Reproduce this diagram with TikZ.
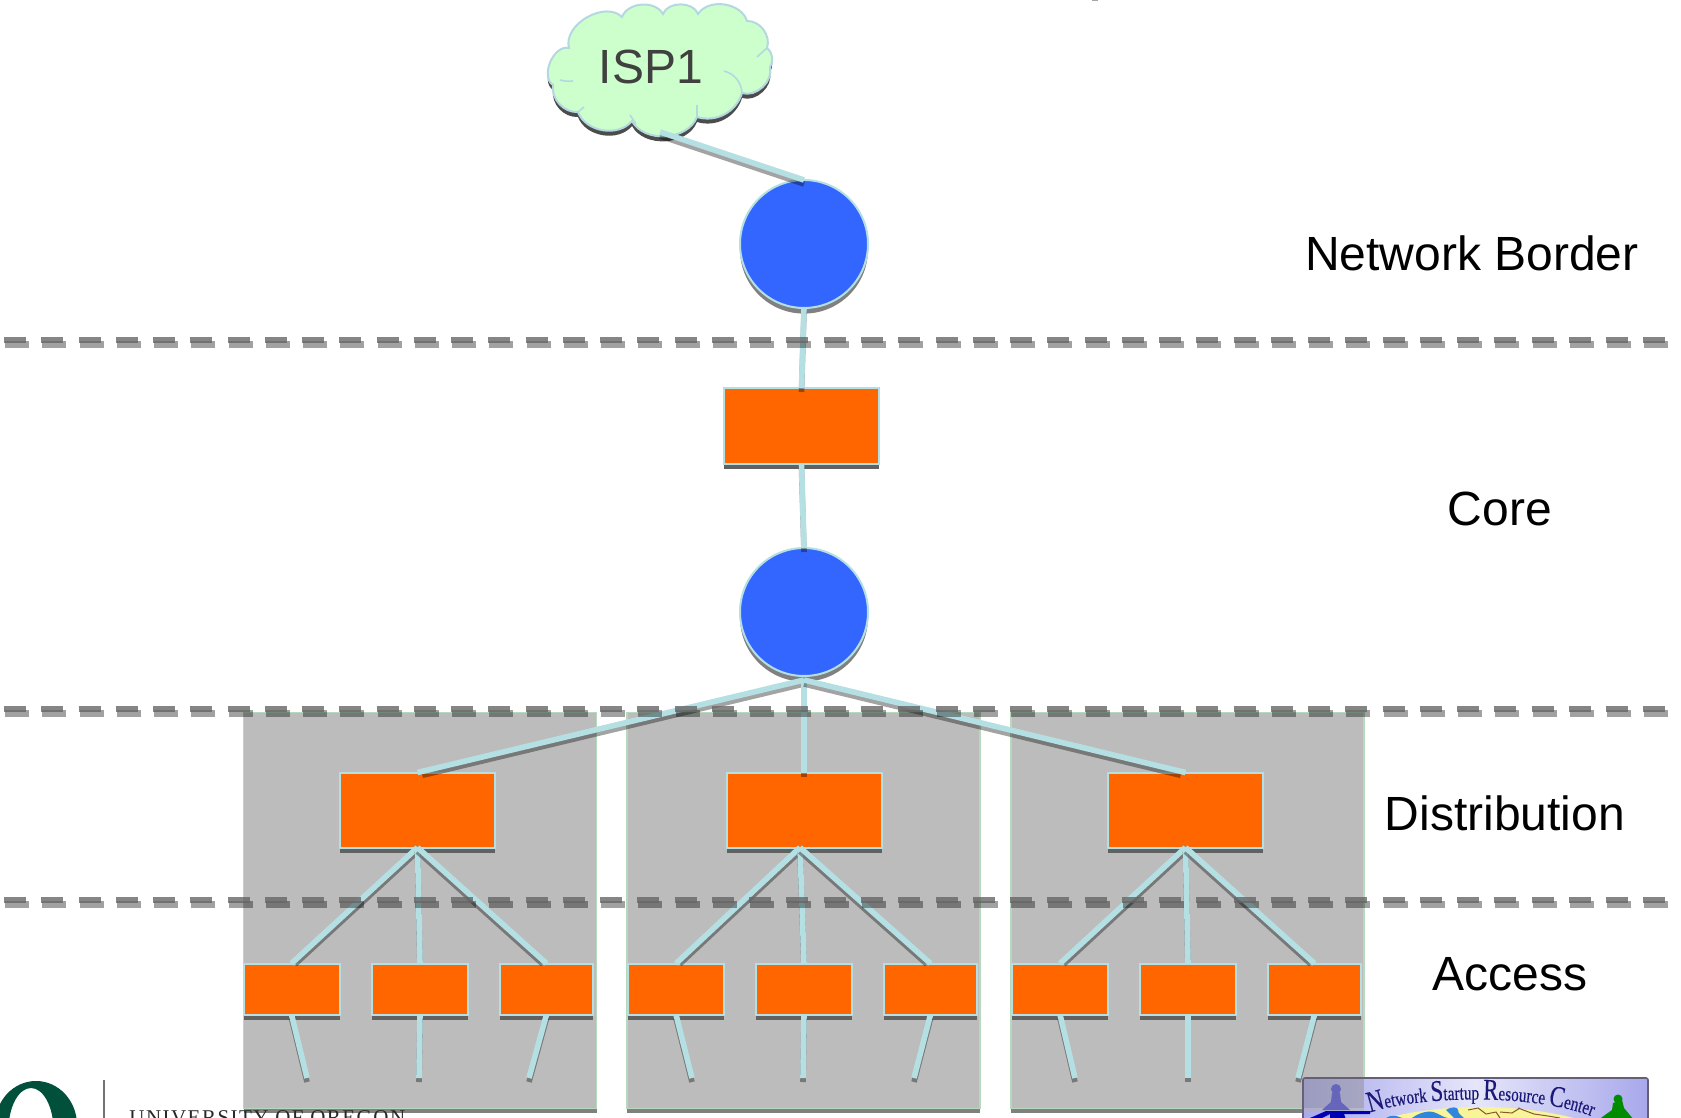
\documentclass[tikz,border=0pt]{standalone}
\usepackage{fontspec}
\setmainfont{Liberation Sans}
\newfontfamily\serifrm[FakeStretch=0.76,FakeBold=0.3]{Liberation Serif}
\newfontfamily\serifsp[LetterSpace=7]{Liberation Serif}
\usetikzlibrary{shadows,decorations.text}
\definecolor{linkc}{HTML}{B4DFE3}
\definecolor{orangec}{HTML}{FF6600}
\definecolor{bluec}{HTML}{3366FF}
\definecolor{greybox}{HTML}{BCBCBC}
\definecolor{greyedge}{HTML}{B6D8BC}
\definecolor{cloudc}{HTML}{CCFFCC}
\definecolor{clouded}{HTML}{B4D8E0}
\definecolor{oregon}{HTML}{00503C}
\definecolor{bannerink}{HTML}{1C1A78}
\definecolor{bannerend}{HTML}{A8A8EC}
\definecolor{bannermid}{HTML}{E6E6FA}
\definecolor{bannered}{HTML}{665F77}
\definecolor{globec}{HTML}{F8F49A}
\definecolor{seac}{HTML}{2F86DC}
\newcommand{\bnrbig}{\serifrm\fontsize{15}{15}\selectfont}
\newcommand{\bnrsmall}{\serifrm\fontsize{10}{10}\selectfont}
\tikzset{
  link/.style={draw=linkc,line width=2.8pt,
    preaction={draw=black,opacity=.36,line width=2.8pt,transform canvas={yshift=-2pt}}},
  hiddenend/.style={draw=linkc,line width=2.8pt,
    preaction={draw=black,opacity=.36,line width=2.8pt,shorten >=2.5pt,transform canvas={yshift=-2pt}}},
  box/.style={rectangle,fill=orangec,draw=linkc,line width=1pt,inner sep=0pt,outer sep=0pt,
    general shadow={shadow xshift=0pt,shadow yshift=-2.5pt,fill=black!62}},
  distbox/.style={box,minimum width=77.5pt,minimum height=37.5pt},
  accbox/.style={box,minimum height=25.5pt},
  router/.style={circle,fill=bluec,draw=linkc,line width=1pt,minimum size=64pt,inner sep=0pt,outer sep=0pt,
    general shadow={shadow xshift=0pt,shadow yshift=-2.8pt,fill=black!50}},
  zone/.style={rectangle,fill=greybox,draw=greyedge,line width=.8pt,minimum width=176.5pt,minimum height=198pt,
    inner sep=0pt,outer sep=0pt,
    general shadow={shadow xshift=0pt,shadow yshift=-2pt,fill=black!50}},
  divider/.style={draw=black!60,line width=3.2pt,opacity=.8,dash pattern=on 11pt off 7.63pt},
  dividershade/.style={draw=black,line width=3.4pt,opacity=.37,dash pattern=on 12pt off 6.63pt},
  tier/.style={font=\fontsize{24}{24}\selectfont,text=black,inner sep=0pt},
  stub/.style={link}
}
\begin{document}
\begin{tikzpicture}[x=0.5pt,y=-0.5pt]
\useasboundingbox (0,0) rectangle (1681,1118);
\clip (0,0) rectangle (1681,1118);

% clipped mark on top edge
\fill[black!35] (1092,0) rectangle (1098,1);

% grey zones
\node[zone] (zoneA) at (420,910.5) {};
\node[zone] (zoneB) at (803.5,910.5) {};
\node[zone] (zoneC) at (1187.5,910.5) {};

% banner (over the zone corner)
\begin{scope}
  \clip[rounded corners=1pt] (1303,1078) rectangle (1648,1130);
  \shade[left color=bannerend,right color=bannerend,middle color=bannermid] (1303,1078) rectangle (1648,1130);
  \fill[black!45,opacity=.45] (1303,1078) rectangle (1364,1108);
  \fill[black!30,opacity=.55] (1303,1108) rectangle (1364,1112);
  % globe
  \fill[globec] (1480,1192) ellipse [x radius=190,y radius=85];
  % continents
  \fill[seac] (1412,1118) .. controls (1420,1112) and (1430,1110) .. (1436,1113) .. controls (1442,1116) and (1446,1118) .. (1448,1118) -- cycle;
  \fill[seac] (1446,1110) .. controls (1452,1106) and (1458,1107) .. (1458,1110) .. controls (1458,1114) and (1462,1116) .. (1464,1118) -- (1454,1118) -- cycle;
  \fill[seac] (1386,1118) .. controls (1390,1115) and (1396,1115) .. (1402,1118) -- cycle;
  \draw[brown!70!black,line width=.5pt] (1468,1110) -- (1478,1108) -- (1486,1114) -- (1496,1112) -- (1500,1118);
  \draw[brown!70!black,line width=.5pt] (1500,1112) -- (1512,1113) -- (1520,1108);
  \draw[brown!70!black,line width=.5pt] (1518,1108) -- (1534,1114) -- (1548,1116) -- (1560,1118);
  % left figure
  \fill[blue!45!black!40!bannerend] (1336,1089) circle [radius=5];
  \fill[blue!45!black!40!bannerend] (1332,1093) -- (1340,1093) -- (1341,1102) -- (1350,1110) -- (1322,1110) -- (1331,1102) -- cycle;
  \fill[blue!70!black] (1310,1118) -- (1326,1111) -- (1370,1111) -- (1370,1114) -- (1344,1114) -- (1346,1120) -- (1330,1120) -- (1330,1114) -- (1322,1118) -- cycle;
  % right figure
  \fill[green!55!black] (1618,1099) circle [radius=4.5];
  \fill[green!55!black] (1613,1103) -- (1622,1100) -- (1624,1108) -- (1634,1120) -- (1598,1120) -- (1612,1110) -- cycle;
\end{scope}
\draw[bannered,line width=.8pt,rounded corners=1pt] (1303,1130) -- (1303,1078) -- (1648,1078) -- (1648,1130);
\coordinate (arcL) at (1366,1114);
\coordinate (arcR) at (1596,1118);
\path[decorate,decoration={text along path,text align=center,text color=bannerink,
  text={|\bnrbig|N|\bnrsmall|etwork |\bnrbig|S|\bnrsmall|tartup |\bnrbig|R|\bnrsmall|esource |\bnrbig|C|\bnrsmall|enter}}]
  (arcL) .. controls (1420,1094) and (1540,1094) .. (arcR);

% cloud
\path[fill=cloudc,draw=clouded,line width=1pt,
  general shadow={shadow xshift=0pt,shadow yshift=-2.5pt,fill=black!70}]
  (569,48) to[bend left=75] (622,17) to[bend left=65] (663,14) to[bend left=70] (698,14)
  to[bend left=65] (747,21) to[bend left=55] (767,48) to[bend left=40] (770,67)
  to[bend left=60] (742,93) to[bend left=45] (697,117) to[bend left=65] (632,121)
  to[bend left=60] (578,112) to[bend left=50] (553,85) to[bend left=80] cycle;
\draw[clouded,line width=.8pt] (724,71) to[bend left=35] (742,93);
\draw[clouded,line width=.8pt] (757,57) -- (767,48);
\draw[clouded,line width=.8pt] (560,80) to[bend right=10] (573,81);
\draw[clouded,line width=.8pt] (578,112) -- (584,107);
\draw[clouded,line width=.8pt] (630,115) -- (636,124);
\draw[clouded,line width=.8pt] (697,105) -- (697,117);
\node[text=black!75,font=\fontsize{24}{24}\selectfont,inner sep=0pt] (isp) at (651,67) {ISP1};
\coordinate (ispfoot) at (660,132);

% routers and switches
\node[router] (borderR) at (804,244) {};
\node[box,minimum width=77.5pt,minimum height=38pt] (coreS) at (801.5,426) {};
\node[router] (coreR) at (804,612) {};
\coordinate (coreFoot) at (804,680);

\node[distbox] (distA) at (417.5,810) {};
\node[distbox] (distB) at (804,810) {};
\node[distbox] (distC) at (1185.5,810) {};

\node[accbox,minimum width=48pt] (a1) at (291.5,989) {};
\node[accbox,minimum width=48pt] (a2) at (420,989) {};
\node[accbox,minimum width=46.5pt] (a3) at (546.5,989) {};
\node[accbox,minimum width=48pt] (b1) at (676,989) {};
\node[accbox,minimum width=48pt] (b2) at (804,989) {};
\node[accbox,minimum width=46.5pt] (b3) at (930.5,989) {};
\node[accbox,minimum width=48pt] (c1) at (1060,989) {};
\node[accbox,minimum width=48pt] (c2) at (1188,989) {};
\node[accbox,minimum width=46.5pt] (c3) at (1314.5,989) {};

\coordinate (lineL1) at (4,340); \coordinate (lineR1) at (1668,340);
\coordinate (lineL2) at (4,709); \coordinate (lineR2) at (1668,709);
\coordinate (lineL3) at (4,900); \coordinate (lineR3) at (1668,900);

% free ends of the access links
\coordinate (e1) at (307,1078); \coordinate (e2) at (419,1078); \coordinate (e3) at (529,1078);
\coordinate (e4) at (692,1078); \coordinate (e5) at (803,1078); \coordinate (e6) at (914,1078);
\coordinate (e7) at (1075,1078); \coordinate (e8) at (1188,1078); \coordinate (e9) at (1298,1078);

% connectors
\draw[link] (ispfoot) -- (borderR.north);
\draw[link] (borderR.south) -- (coreS.north);
\draw[link] (coreS.south) -- (coreR.north);
\draw[hiddenend] (coreFoot) -- (distA.north);
\draw[link] (coreFoot) -- (distB.north);
\draw[hiddenend] (coreFoot) -- (distC.north);
\draw[hiddenend] (distA.south) -- (a1.north);
\draw[hiddenend] (distA.south) -- (a2.north);
\draw[hiddenend] (distA.south) -- (a3.north);
\draw[hiddenend] ([xshift=-2pt]distB.south) -- (b1.north);
\draw[hiddenend] ([xshift=-2pt]distB.south) -- (b2.north);
\draw[hiddenend] ([xshift=-2pt]distB.south) -- (b3.north);
\draw[hiddenend] (distC.south) -- (c1.north);
\draw[hiddenend] (distC.south) -- (c2.north);
\draw[hiddenend] (distC.south) -- (c3.north);
\draw[stub] (a1.south) -- (e1);
\draw[stub] (a2.south) -- (e2);
\draw[stub] (a3.south) -- (e3);
\draw[stub] (b1.south) -- (e4);
\draw[stub] (b2.south) -- (e5);
\draw[stub] (b3.south) -- (e6);
\draw[stub] (c1.south) -- (e7);
\draw[stub] (c2.south) -- (e8);
\draw[stub] (c3.south) -- (e9);

% dashed tier lines
\foreach \n in {1,2,3}{
  \path[dividershade] ([shift={(1,4.5)}]lineL\n) -- ([shift={(1,4.5)}]lineR\n);
  \path[divider] (lineL\n) -- (lineR\n);
}

% tier labels
\node[tier] (tNet) at (1472,253) {Network Border};
\node[tier] (tCore) at (1500,509) {Core};
\node[tier] (tDist) at (1505,813) {Distribution};
\node[tier] (tAcc) at (1510,974) {Access};

% University of Oregon logo
\fill[oregon,even odd rule] (36,1125) ellipse [x radius=41,y radius=44] (31,1130) ellipse [x radius=22.5,y radius=42];
\draw[black!55,line width=.7pt] (104,1080) -- (104,1118);
\node[anchor=base west,inner sep=0pt,text=black!85,font=\serifsp\fontsize{10.5}{10.5}\selectfont] (uo) at (129,1124) {UNIVERSITY OF OREGON};
\end{tikzpicture}
\end{document}
